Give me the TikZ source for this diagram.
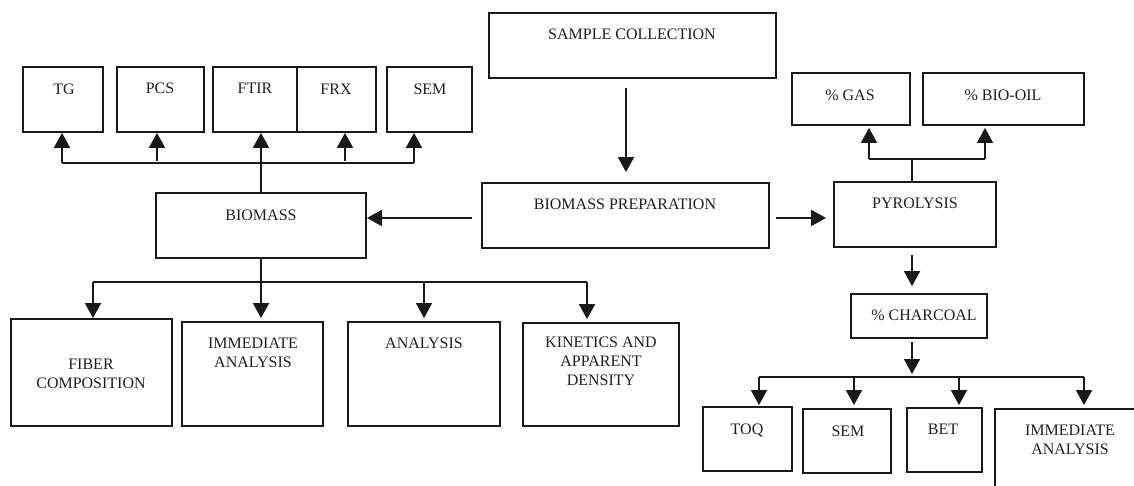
\documentclass[tikz,border=0pt]{standalone}
\usepackage{fontspec}
\setmainfont{Liberation Serif}
\usetikzlibrary{arrows.meta}
\begin{document}
\begin{tikzpicture}[x=1pt,y=-1pt,
  box/.style={draw=black!90, line width=1.8pt, rectangle, inner sep=0pt},
  txt/.style={anchor=north, inner sep=0pt, align=center, font=\fontsize{16}{19}\selectfont, text=black!88},
  conn/.style={line width=1.8pt, draw=black!90},
  arr/.style={conn, -{Triangle[length=15pt,width=16pt]}}
]
\clip (0,0) rectangle (1134,486);
% boxes
\node[box, minimum width=80pt,  minimum height=65pt] (tg)    at (63,99.5) {};
\node[box, minimum width=87pt,  minimum height=65pt] (pcs)   at (160.5,99.5) {};
\node[box, minimum width=84pt,  minimum height=65pt] (ftir)  at (255,99.5) {};
\node[box, minimum width=79pt,  minimum height=65pt] (frx)   at (336.5,99.5) {};
\node[box, minimum width=85pt,  minimum height=65pt] (sem)   at (429.5,99.5) {};
\node[box, minimum width=287pt, minimum height=65pt] (samp)  at (632.5,45.5) {};
\node[box, minimum width=287pt, minimum height=65pt] (prep)  at (625.5,215.5) {};
\node[box, minimum width=210pt, minimum height=65pt] (bio)   at (261,225.5) {};
\node[box, minimum width=162pt, minimum height=65pt] (pyro)  at (915,214.5) {};
\node[box, minimum width=118pt, minimum height=52pt] (gas)   at (851,99) {};
\node[box, minimum width=161pt, minimum height=52pt] (oil)   at (1003.5,99) {};
\node[box, minimum width=136pt, minimum height=44pt] (char)  at (919,316) {};
\node[box, minimum width=89pt,  minimum height=64pt] (toq)   at (747.5,439) {};
\node[box, minimum width=88pt,  minimum height=64pt] (sem2)  at (847,441) {};
\node[box, minimum width=75pt,  minimum height=64pt] (bet)   at (944.5,440) {};
\node[box, minimum width=155pt, minimum height=91pt] (immr)  at (1072.5,454.5) {};
\node[box, minimum width=161pt, minimum height=107pt] (fib)  at (91.5,372.5) {};
\node[box, minimum width=141pt, minimum height=104pt] (imml) at (252.5,374) {};
\node[box, minimum width=152pt, minimum height=104pt] (anal) at (424,374) {};
\node[box, minimum width=156pt, minimum height=103pt] (kin)  at (601,374.5) {};
% texts
\node[txt] (t-tg)   at (64,84)   {TG};
\node[txt] (t-pcs)  at (160,83)  {PCS};
\node[txt] (t-ftir) at (255,83)  {FTIR};
\node[txt] (t-frx)  at (336,84)  {FRX};
\node[txt] (t-sem)  at (430,84)  {SEM};
\node[txt] (t-samp) at (632,29)  {SAMPLE COLLECTION};
\node[txt] (t-prep) at (625,199) {BIOMASS PREPARATION};
\node[txt] (t-bio)  at (261,210) {BIOMASS};
\node[txt] (t-pyro) at (915,198) {PYROLYSIS};
\node[txt] (t-gas)  at (850,90)  {\% GAS};
\node[txt] (t-oil)  at (1003,90) {\% BIO-OIL};
\node[txt] (t-char) at (924,310) {\% CHARCOAL};
\node[txt] (t-toq)  at (747,424) {TOQ};
\node[txt] (t-sem2) at (848,426) {SEM};
\node[txt] (t-bet)  at (943,424) {BET};
\node[txt] (t-immr) at (1070,425) {IMMEDIATE\\ANALYSIS};
\node[txt] (t-fib)  at (91,359)  {FIBER\\COMPOSITION};
\node[txt] (t-imml) at (253,338) {IMMEDIATE\\ANALYSIS};
\node[txt] (t-anal) at (424,338) {ANALYSIS};
\node[txt] (t-kin)  at (601,337) {KINETICS AND\\APPARENT\\DENSITY};
% top-left tree
\coordinate (hL) at (62,163);
\coordinate (hR) at (414,163);
\coordinate (pcsA) at (157,161);
\coordinate (frxA) at (345,161);
\draw[conn] (hL) -- (hR);
\draw[arr] (hL) -- (hL |- tg.south);
\draw[arr] (hR) -- (hR |- sem.south);
\draw[arr] (bio.north) -- (bio.north |- ftir.south);
\draw[arr] (pcsA) -- (pcsA |- pcs.south);
\draw[arr] (frxA) -- (frxA |- frx.south);
% centre
\coordinate (sA) at (626,88);
\draw[arr, shorten >=10pt] (sA) -- (sA |- prep.north);
\coordinate (pL) at (472,218);
\draw[arr] (pL) -- (pL -| bio.east);
\coordinate (pR) at (776,218);
\draw[arr, shorten >=7pt] (pR) -- (pR -| pyro.west);
% pyrolysis up
\coordinate (pyN) at (912,159);
\coordinate (gA) at (869,159);
\coordinate (oA) at (985,159);
\draw[conn] (pyN) -- (pyN |- pyro.north);
\draw[conn] (gA) -- (oA);
\draw[arr, shorten >=2pt] (gA) -- (gA |- gas.south);
\draw[arr, shorten >=2pt] (oA) -- (oA |- oil.south);
% pyrolysis down
\coordinate (pyD) at (912,255);
\draw[arr, shorten >=7pt] (pyD) -- (pyD |- char.north);
\coordinate (chD) at (912,342);
\coordinate (cJ) at (912,377);
\draw[arr, shorten >=3pt] (chD) -- (cJ);
\coordinate (cL) at (759,377);
\coordinate (cR) at (1084,377);
\coordinate (cS) at (854,377);
\coordinate (cB) at (959,377);
\draw[conn] (cL) -- (cR);
\draw[arr, shorten >=1pt] (cL) -- (cL |- toq.north);
\draw[arr, shorten >=3pt] (cS) -- (cS |- sem2.north);
\draw[arr, shorten >=2pt] (cB) -- (cB |- bet.north);
\draw[arr, shorten >=3pt] (cR) -- (cR |- immr.north);
% biomass down
\coordinate (bL) at (93,282);
\coordinate (bR) at (587,282);
\coordinate (bA) at (424,282);
\draw[conn] (bL) -- (bR);
\draw[arr, shorten >=3pt] (bio.south) -- (bio.south |- imml.north);
\draw[arr] (bL) -- (bL |- fib.north);
\draw[arr, shorten >=3pt] (bA) -- (bA |- anal.north);
\draw[arr, shorten >=3pt] (bR) -- (bR |- kin.north);
\end{tikzpicture}
\end{document}
